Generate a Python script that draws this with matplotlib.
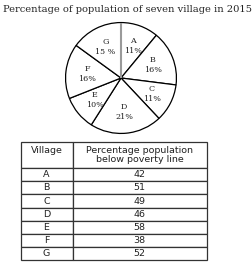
import numpy as np
import matplotlib
matplotlib.use('Agg')
import matplotlib.pyplot as plt

villages = ['A', 'B', 'C', 'D', 'E', 'F', 'G']
share = [11, 16, 11, 21, 10, 16, 15]          # % of population (pie)
share_text = ['11%', '16%', '11%', '21%', '10%', '16%', '15 %']
poverty = [42, 51, 49, 46, 58, 38, 52]         # % below poverty line (table)

W, H = 253, 263
fig = plt.figure(figsize=(W / 100, H / 100), dpi=100)
fig.patch.set_facecolor('white')

fig.text(3 / W, 1 - 10 / H, 'Percentage of population of seven village in 2015',
         family='DejaVu Serif', fontsize=7.1, ha='left', va='center', color='#222222')

# pie, centre (121, 78) px, radius 56 px
cx, cy, r = 121, 78, 56
ax = fig.add_axes([(cx - r) / W, (H - cy - r) / H, 2 * r / W, 2 * r / H])
labels = ['%s\n%s' % (v, t) for v, t in zip(villages, share_text)]
wedges, texts = ax.pie(share, labels=labels, startangle=90, counterclock=False,
                       labeldistance=0.62, colors=['white'] * len(share),
                       wedgeprops=dict(edgecolor='black', linewidth=0.9),
                       textprops=dict(family='DejaVu Serif', fontsize=5.8,
                                      ha='center', va='center', color='#222222',
                                      linespacing=1.3))
# the A/G boundary is drawn in grey in the original
a = np.deg2rad(wedges[0].theta2)
ax.plot([0, np.cos(a)], [0, np.sin(a)], color='#9a9a9a', lw=1.5, zorder=5,
        solid_capstyle='butt')
ax.set_xlim(-1.01, 1.01)
ax.set_ylim(-1.01, 1.01)
ax.set_aspect('auto')
ax.axis('off')

# table
x0, x1, y0, y1 = 20.5, 207, 142, 260
tax = fig.add_axes([x0 / W, (H - y1) / H, (x1 - x0) / W, (y1 - y0) / H])
tax.axis('off')
rows = [[v, str(p)] for v, p in zip(villages, poverty)]
tbl = tax.table(cellText=rows, colLabels=['Village', 'Percentage population\nbelow poverty line'],
                colWidths=[52, 134.5], cellLoc='center', bbox=[0, 0, 1, 1])
tbl.auto_set_font_size(False)
tbl.set_fontsize(6.8)
for (i, j), cell in tbl.get_celld().items():
    cell.set_edgecolor('#333333')
    cell.set_linewidth(0.9)
    cell.get_text().set_color('#222222')
    cell.set_height(2.0 if i == 0 else 1.0)
    if i == 0:
        cell.get_text().set_linespacing(1.05)
        if j == 0:
            cell.get_text().set_va('bottom')

fig.savefig('out.png', dpi=100)
